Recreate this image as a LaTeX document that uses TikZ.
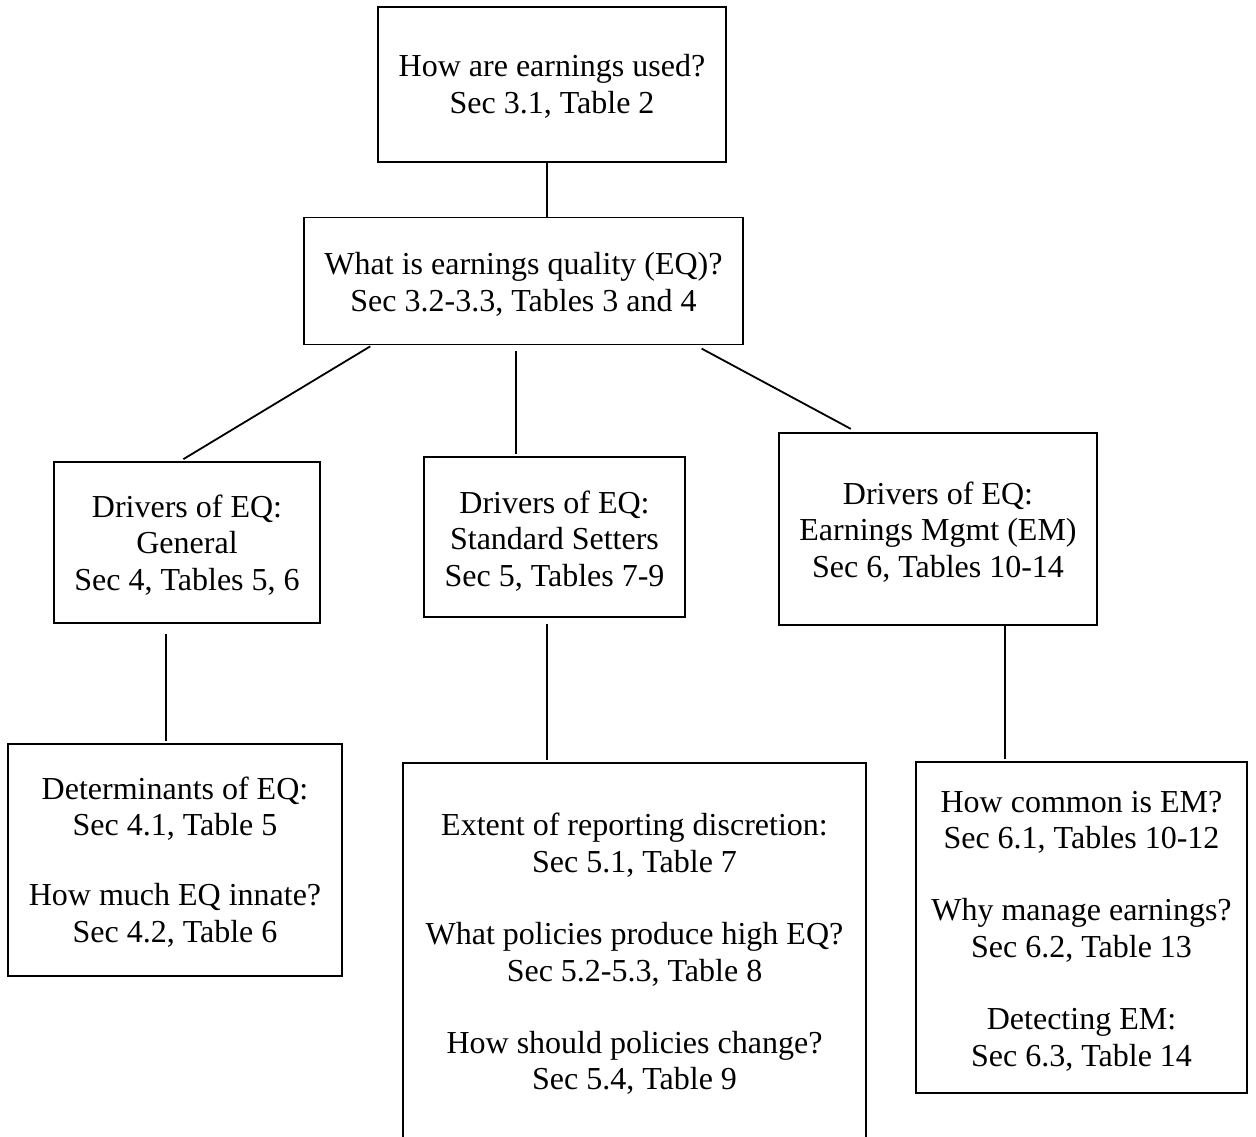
\documentclass[tikz,border=0pt]{standalone}
\usepackage{fontspec}
\setmainfont{Liberation Serif}
\begin{document}
\begin{tikzpicture}[x=1pt,y=-1pt,
  box/.style={draw=black, line width=1.6pt, inner sep=0pt, fill=none},
  txt/.style={align=center, font=\fontsize{32}{36.8}\selectfont, inner sep=0pt},
  link/.style={draw=black, line width=1.8pt}]
\useasboundingbox[fill=white] (0,0) rectangle (1256,1137);

% boxes
\node[box, minimum width=348pt, minimum height=155pt] (top) at (552,84.5) {};
\node[box, minimum width=439pt, minimum height=127pt] (eq) at (523.5,281) {};
\node[box, minimum width=266pt, minimum height=161pt] (gen) at (187,542.5) {};
\node[box, minimum width=261pt, minimum height=160pt] (std) at (554.5,537) {};
\node[box, minimum width=318pt, minimum height=192pt] (em) at (938,529) {};
\node[box, minimum width=334pt, minimum height=232pt] (gen2) at (175,860) {};
\node[box, minimum width=463pt, minimum height=398pt] (std2) at (634.5,962) {};
\node[box, minimum width=331pt, minimum height=331pt] (em2) at (1081.5,927.5) {};

% texts
\node[txt] (top-t) at (552,86) {How are earnings used?\\Sec 3.1, Table 2};
\node[txt] (eq-t) at (523.5,284) {What is earnings quality (EQ)?\\Sec 3.2-3.3, Tables 3 and 4};
\node[txt] (gen-t) at (187,545) {Drivers of EQ:\\General\\Sec 4, Tables 5, 6};
\node[txt] (std-t) at (554.5,541) {Drivers of EQ:\\Standard Setters\\Sec 5, Tables 7-9};
\node[txt] (em-t) at (938,532) {Drivers of EQ:\\Earnings Mgmt (EM)\\Sec 6, Tables 10-14};
\node[txt] (gen2-t) at (175,862) {Determinants of EQ:\\Sec 4.1, Table 5\\[33pt]How much EQ innate?\\Sec 4.2, Table 6};
\node[txt] (std2-t) at (634.5,954) {Extent of reporting discretion:\\Sec 5.1, Table 7\\[35pt]What policies produce high EQ?\\Sec 5.2-5.3, Table 8\\[35pt]How should policies change?\\Sec 5.4, Table 9};
\node[txt] (em2-t) at (1081.5,931) {How common is EM?\\Sec 6.1, Tables 10-12\\[35pt]Why manage earnings?\\Sec 6.2, Table 13\\[35pt]Detecting EM:\\Sec 6.3, Table 14};

% connectors
\draw[link] ([xshift=-5pt]top.south) -- ([xshift=23.5pt]eq.north);
\draw[link, shorten <=2pt, shorten >=4pt] ([xshift=-151.5pt]eq.south) -- ([xshift=-7pt]gen.north);
\draw[link, shorten <=6pt, shorten >=2pt] ([xshift=-7.5pt]eq.south) -- ([xshift=-38.5pt]std.north);
\draw[link, shorten <=7pt, shorten >=7pt] ([xshift=172pt]eq.south) -- ([xshift=-81pt]em.north);
\draw[link, shorten <=10pt, shorten >=2pt] ([xshift=-21pt]gen.south) -- ([xshift=-9pt]gen2.north);
\draw[link, shorten <=6pt, shorten >=2pt] ([xshift=-7.5pt]std.south) -- ([xshift=-87.5pt]std2.north);
\draw[link, shorten >=2pt] ([xshift=67pt]em.south) -- ([xshift=-76.5pt]em2.north);
\end{tikzpicture}
\end{document}
